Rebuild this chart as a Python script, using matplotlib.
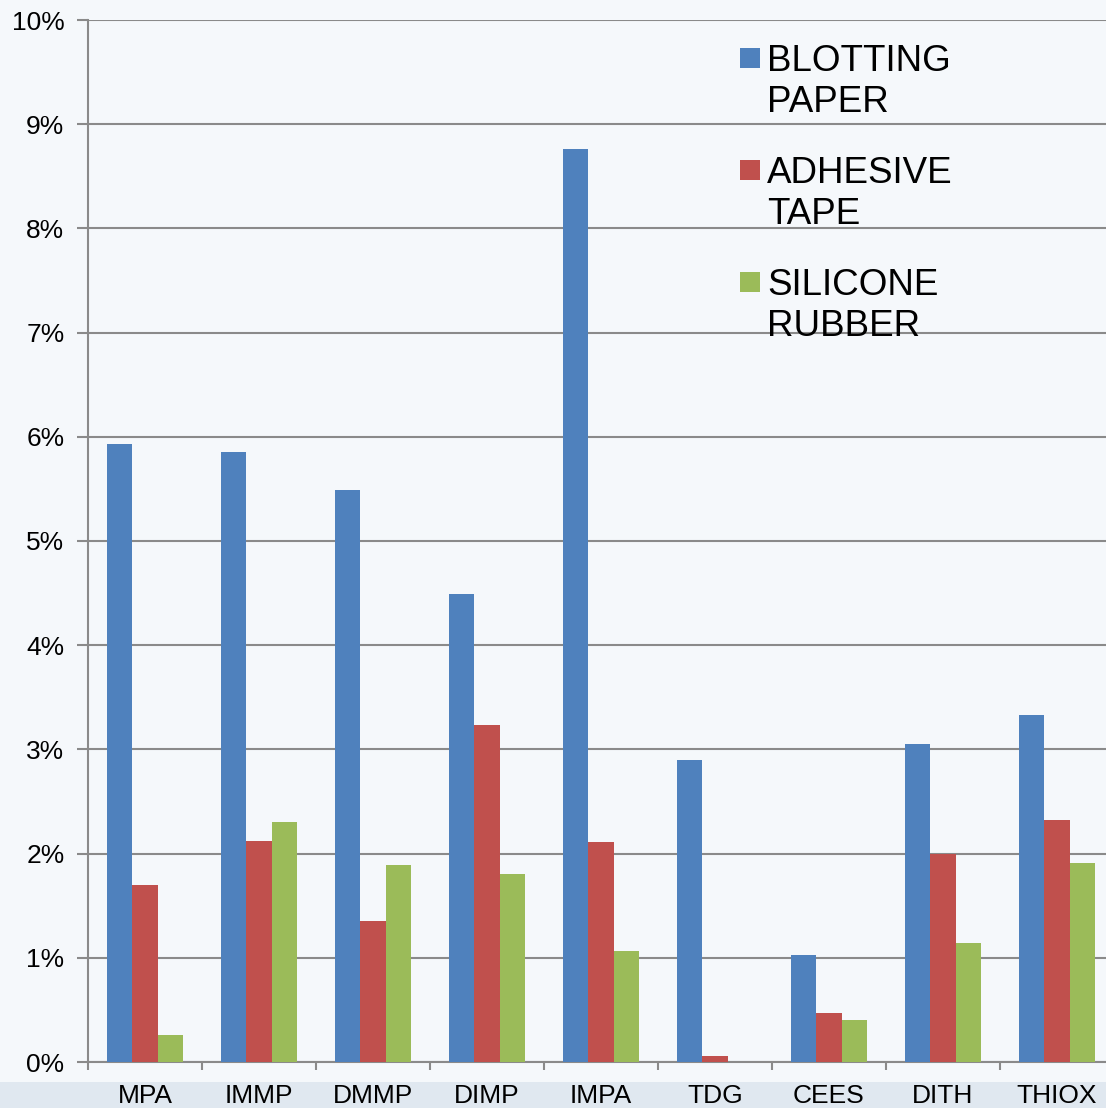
import numpy as np
import matplotlib.pyplot as plt
from matplotlib.patches import Rectangle
from matplotlib.ticker import PercentFormatter

plt.rcParams['font.family'] = ['Liberation Sans', 'DejaVu Sans']

compounds = ["MPA", "IMMP", "DMMP", "DIMP", "IMPA", "TDG", "CEES", "DITH", "THIOX"]
blotting_paper = [5.93, 5.85, 5.49, 4.49, 8.76, 2.90, 1.03, 3.05, 3.33]
adhesive_tape = [1.70, 2.12, 1.35, 3.23, 2.11, 0.06, 0.47, 2.00, 2.32]
silicone_rubber = [0.26, 2.30, 1.89, 1.80, 1.07, 0.00, 0.40, 1.14, 1.91]

series = [
    ("BLOTTING\nPAPER", blotting_paper, "#4f81bd"),
    ("ADHESIVE\nTAPE", adhesive_tape, "#c0504d"),
    ("SILICONE\nRUBBER", silicone_rubber, "#9bbb59"),
]

W, H = 1106, 1108
fig = plt.figure(figsize=(W / 100, H / 100), dpi=100, facecolor="#f5f8fb")

# light band along the bottom edge, kept behind everything
band = Rectangle((0, 0), 1, 26 / H, transform=fig.transFigure,
                 facecolor="#e0e8f0", edgecolor="none", zorder=-10)
fig.patches.append(band)

ax = fig.add_axes([88 / W, 46 / H, 9 * 114 / W, 1042 / H])
ax.set_facecolor("none")
ax.set_zorder(2)

x = np.arange(len(compounds))
bw = 0.222
for i, (label, vals, color) in enumerate(series):
    ax.bar(x + (i - 1) * bw, vals, width=bw, color=color, zorder=3)

ax.set_xlim(-0.5, len(compounds) - 0.5)
ax.set_ylim(0, 10)
ax.yaxis.set_major_formatter(PercentFormatter(decimals=0))
ax.set_yticks(np.arange(0, 11, 1))
ax.grid(axis="y", color="#8a8a8a", linewidth=1.5, zorder=1)

# category labels centred, tick marks between groups
ax.set_xticks(x)
ax.set_xticklabels(compounds, fontsize=19)
ax.tick_params(axis="x", length=0, pad=16)
ax.set_xticks(np.arange(-0.5, len(compounds), 1), minor=True)
ax.tick_params(axis="x", which="minor", length=6, width=1.5, color="#8a8a8a")
ax.tick_params(axis="y", labelsize=19, length=8, width=1.5, color="#8a8a8a", pad=9)

for side in ["top", "right"]:
    ax.spines[side].set_visible(False)
for side in ["left", "bottom"]:
    ax.spines[side].set_color("#8a8a8a")
    ax.spines[side].set_linewidth(1.5)

# legend drawn as squares with two-line labels
for i, (label, vals, color) in enumerate(series):
    top = 48 + i * 112
    fig.patches.append(Rectangle((740 / W, 1 - (top + 20) / H), 20 / W, 20 / H,
                                 transform=fig.transFigure, facecolor=color,
                                 edgecolor="none", zorder=5))
    fig.text(767 / W, 1 - (top - 4) / H, label, fontsize=26.5, va="top", ha="left",
             linespacing=1.22, color="#000000")

fig.savefig("out.png", dpi=100, facecolor=fig.get_facecolor())
